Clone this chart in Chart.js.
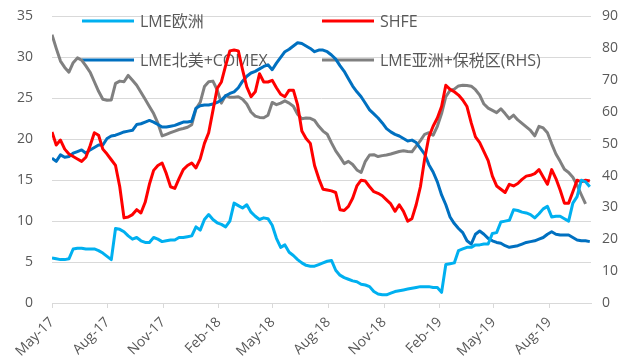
<!DOCTYPE html>
<html>
<head>
<meta charset="utf-8">
<script src="https://cdn.jsdelivr.net/npm/chart.js@4/dist/chart.umd.min.js"></script>
<style>
  html, body { margin: 0; padding: 0; background: #fff; }
  #wrap { width: 634px; height: 362px; position: relative; }
</style>
</head>
<body>
<div id="wrap"><canvas id="chart"></canvas></div>
<script>
// weekly observations
const dates = [
  '2017-05-01','2017-05-08','2017-05-15','2017-05-22','2017-05-29','2017-06-05','2017-06-12','2017-06-19','2017-06-26',
  '2017-07-03','2017-07-10','2017-07-17','2017-07-24','2017-07-31','2017-08-07','2017-08-14','2017-08-21','2017-08-28',
  '2017-09-04','2017-09-11','2017-09-18','2017-09-25','2017-10-02','2017-10-09','2017-10-16','2017-10-23','2017-10-30',
  '2017-11-06','2017-11-13','2017-11-20','2017-11-27','2017-12-04','2017-12-11','2017-12-18','2017-12-25',
  '2018-01-01','2018-01-08','2018-01-15','2018-01-22','2018-01-29','2018-02-05','2018-02-12','2018-02-19','2018-02-26',
  '2018-03-05','2018-03-12','2018-03-19','2018-03-26','2018-04-02','2018-04-09','2018-04-16','2018-04-23','2018-04-30',
  '2018-05-07','2018-05-14','2018-05-21','2018-05-28','2018-06-04','2018-06-11','2018-06-18','2018-06-25',
  '2018-07-02','2018-07-09','2018-07-16','2018-07-23','2018-07-30','2018-08-06','2018-08-13','2018-08-20','2018-08-27',
  '2018-09-03','2018-09-10','2018-09-17','2018-09-24','2018-10-01','2018-10-08','2018-10-15','2018-10-22','2018-10-29',
  '2018-11-05','2018-11-12','2018-11-19','2018-11-26','2018-12-03','2018-12-10','2018-12-17','2018-12-24','2018-12-31',
  '2019-01-07','2019-01-14','2019-01-21','2019-01-28','2019-02-04','2019-02-11','2019-02-18','2019-02-25',
  '2019-03-04','2019-03-11','2019-03-18','2019-03-25','2019-04-01','2019-04-08','2019-04-15','2019-04-22','2019-04-29',
  '2019-05-06','2019-05-13','2019-05-20','2019-05-27','2019-06-03','2019-06-10','2019-06-17','2019-06-24',
  '2019-07-01','2019-07-08','2019-07-15','2019-07-22','2019-07-29','2019-08-05','2019-08-12','2019-08-19','2019-08-26',
  '2019-09-02','2019-09-09','2019-09-16','2019-09-23','2019-09-30','2019-10-07'
];

const lmeEurope = [
  5.5, 5.4, 5.3, 5.3, 5.4, 6.6, 6.7, 6.7, 6.6, 6.6, 6.6, 6.4, 6.1, 5.7, 5.3, 9.1, 9.0, 8.7, 8.2, 7.8,
  8.0, 7.6, 7.4, 7.4, 8.0, 7.8, 7.5, 7.6, 7.7, 7.7, 8.0, 8.0, 8.1, 8.2, 9.3, 8.9, 10.2, 10.8, 10.2, 9.8,
  9.6, 9.3, 10.0, 12.2, 11.9, 11.6, 12.0, 11.1, 10.6, 10.2, 10.4, 10.3, 9.5, 7.9, 6.8, 7.1, 6.2, 5.8, 5.3, 4.9,
  4.6, 4.5, 4.5, 4.7, 4.9, 5.1, 5.2, 4.0, 3.4, 3.1, 2.9, 2.7, 2.6, 2.3, 2.2, 2.0, 1.4, 1.1, 1.0, 1.0,
  1.2, 1.4, 1.5, 1.6, 1.7, 1.8, 1.9, 2.0, 2.0, 2.0, 1.9, 1.9, 1.3, 4.7, 4.8, 4.9, 6.4, 6.6, 6.8, 6.8,
  7.1, 7.1, 7.2, 7.2, 8.5, 8.6, 9.9, 10.0, 10.1, 11.4, 11.3, 11.1, 11.0, 10.8, 10.4, 10.9, 11.5, 11.8, 10.5, 10.6,
  10.6, 10.3, 10.0, 12.2, 13.0, 15.0, 14.8, 14.2
];

const shfe = [
  20.9, 19.3, 19.9, 18.8, 18.2, 17.9, 17.6, 17.3, 17.8, 19.2, 20.8, 20.5, 18.8, 18.2, 17.5, 16.8, 14.2, 10.4, 10.5, 10.8,
  11.4, 11.0, 12.3, 14.5, 16.2, 16.8, 17.1, 15.8, 14.2, 14.0, 15.2, 16.3, 16.8, 17.1, 16.5, 17.6, 19.5, 20.8, 23.5, 26.2,
  27.0, 29.0, 30.8, 30.9, 30.8, 28.5, 26.4, 25.2, 25.8, 28.0, 27.0, 27.0, 27.2, 26.3, 25.5, 25.2, 26.0, 26.0, 24.2, 21.0,
  20.1, 19.5, 16.8, 15.2, 13.9, 13.8, 13.7, 13.5, 11.4, 11.3, 11.8, 12.8, 14.3, 15.0, 14.9, 14.2, 13.6, 13.4, 13.1, 12.6,
  12.1, 11.2, 12.0, 11.2, 10.0, 10.3, 12.0, 14.2, 17.6, 20.3, 21.6, 22.6, 24.0, 26.6, 26.1, 25.8, 25.4, 24.8, 24.0, 22.0,
  20.3, 19.6, 18.5, 17.4, 15.5, 14.3, 13.9, 13.5, 14.5, 14.3, 14.6, 15.1, 15.5, 15.6, 15.8, 16.3, 15.4, 14.5, 16.3, 15.2,
  13.8, 12.2, 12.2, 13.6, 15.0, 14.8, 15.0, 14.9
];

const lmeNorthAmerica = [
  17.7, 17.3, 18.1, 17.8, 17.9, 18.3, 18.5, 18.7, 18.3, 18.7, 19.0, 19.3, 19.3, 20.1, 20.4, 20.5, 20.7, 20.9, 21.0, 21.1,
  21.8, 21.9, 22.1, 22.3, 22.1, 21.8, 21.5, 21.5, 21.6, 21.7, 21.9, 22.1, 22.1, 22.2, 23.8, 24.1, 24.2, 24.2, 24.3, 24.5,
  24.8, 25.3, 25.6, 25.8, 26.3, 27.1, 27.7, 28.1, 28.3, 28.6, 28.9, 29.1, 28.5, 29.3, 30.0, 30.7, 31.0, 31.4, 31.8, 31.7,
  31.4, 31.1, 30.7, 30.9, 30.9, 30.7, 30.3, 29.8, 29.0, 28.3, 27.4, 26.5, 25.8, 25.2, 24.4, 23.6, 23.1, 22.6, 22.0, 21.3,
  20.9, 20.6, 20.4, 20.1, 19.8, 19.9, 19.6, 18.9, 18.2, 16.9, 16.0, 14.8, 13.2, 12.0, 10.5, 9.7, 9.1, 8.6, 7.6, 7.2,
  8.4, 8.8, 8.4, 7.9, 7.6, 7.4, 7.3, 7.0, 6.8, 6.9, 7.0, 7.2, 7.4, 7.5, 7.6, 7.8, 8.0, 8.4, 8.7, 8.4,
  8.3, 8.3, 8.3, 8.0, 7.7, 7.6, 7.6, 7.5
];

// right-hand scale
const lmeAsiaBonded = [
  84.3, 80.0, 76.0, 74.0, 72.5, 75.5, 77.0, 76.3, 74.5, 72.5, 69.5, 66.5, 64.0, 63.7, 63.8, 69.0, 69.7, 69.5, 71.5, 70.0,
  68.4, 66.2, 64.0, 61.7, 59.5, 56.5, 52.5, 53.0, 53.5, 54.0, 54.5, 54.8, 55.2, 56.0, 61.0, 63.0, 68.0, 69.5, 69.7, 67.0,
  62.8, 65.2, 64.6, 64.6, 64.8, 64.0, 62.5, 60.0, 58.7, 58.3, 58.2, 59.0, 63.0, 62.3, 62.8, 63.5, 62.8, 61.8, 59.3, 57.9,
  58.1, 58.0, 57.4, 55.5, 54.0, 53.0, 50.3, 47.8, 45.9, 43.8, 44.5, 43.5, 41.8, 41.0, 44.5, 46.5, 46.6, 46.0, 46.3, 46.5,
  46.8, 47.2, 47.6, 47.8, 47.6, 47.5, 49.3, 51.0, 53.0, 53.5, 52.7, 55.5, 59.5, 64.8, 66.8, 67.2, 68.2, 68.4, 68.3, 68.1,
  67.0, 65.3, 62.5, 61.2, 60.5, 59.8, 61.0, 59.5, 57.9, 59.0, 57.5, 56.4, 55.3, 54.2, 52.5, 55.5, 55.0, 53.5, 50.0, 46.8,
  44.5, 42.0, 41.0, 39.5, 37.0, 34.0, 31.1, null
];

const tickDates = ['2017-05-01','2017-08-01','2017-11-01','2018-02-01','2018-05-01','2018-08-01','2018-11-01','2019-02-01','2019-05-01','2019-08-01'];
const tickLabels = ['May-17','Aug-17','Nov-17','Feb-18','May-18','Aug-18','Nov-18','Feb-19','May-19','Aug-19'];
const xStart = '2017-05-01';
const xEnd = '2019-10-09';

const dayNum = s => {
  const p = s.split('-');
  return Date.UTC(+p[0], +p[1] - 1, +p[2]) / 86400000;
};

const FONT = "'Open Sans', 'Noto Sans CJK SC', sans-serif";
const TEXT = '#595959';
const GRID = '#d9d9d9';

const toPoints = vals => dates.map((d, i) => ({ x: dayNum(d), y: vals[i] }));

const lineSet = (label, vals, color, axis, order) => ({
  label: label,
  data: toPoints(vals),
  borderColor: color,
  backgroundColor: color,
  borderWidth: 3,
  pointRadius: 0,
  tension: 0,
  borderJoinStyle: 'round',
  yAxisID: axis,
  order: order,
  spanGaps: false
});

// legend sits inside the plot, two rows; the lines run over it
const overlayLegend = {
  id: 'overlayLegend',
  beforeDatasetsDraw(chart) {
    const ctx = chart.ctx;
    const spots = [[82, 21], [322, 21], [82, 60], [322, 60]];
    ctx.save();
    ctx.font = '16px ' + FONT;
    ctx.textBaseline = 'middle';
    chart.data.datasets.forEach((ds, i) => {
      const [x, y] = spots[i];
      ctx.strokeStyle = ds.borderColor;
      ctx.lineWidth = 3;
      ctx.beginPath();
      ctx.moveTo(x, y);
      ctx.lineTo(x + 52, y);
      ctx.stroke();
      ctx.fillStyle = TEXT;
      ctx.fillText(ds.label, x + 58, y + 1);
    });
    ctx.restore();
  }
};

new Chart(document.getElementById('chart'), {
  type: 'line',
  data: {
    datasets: [
      lineSet('LME欧洲', lmeEurope, '#00B0F0', 'y', 0),
      lineSet('SHFE', shfe, '#FF0000', 'y', 1),
      lineSet('LME北美+COMEX', lmeNorthAmerica, '#0070C0', 'y', 2),
      lineSet('LME亚洲+保税区(RHS)', lmeAsiaBonded, '#808080', 'y1', 3)
    ]
  },
  options: {
    responsive: true,
    maintainAspectRatio: false,
    animation: false,
    layout: { padding: { top: 16.5, left: 0, right: 0, bottom: 0 } },
    plugins: {
      legend: { display: false },
      tooltip: { enabled: false }
    },
    scales: {
      x: {
        type: 'linear',
        min: dayNum(xStart),
        max: dayNum(xEnd),
        afterBuildTicks: s => { s.ticks = tickDates.map(d => ({ value: dayNum(d) })); },
        afterFit: s => { s.height = 59; },
        ticks: {
          autoSkip: false,
          minRotation: 45,
          maxRotation: 45,
          padding: 6,
          color: TEXT,
          font: { family: FONT, size: 14 },
          callback: (v, i) => tickLabels[i]
        },
        grid: { drawOnChartArea: false, drawTicks: true, tickLength: 5, color: GRID },
        border: { color: GRID, width: 1 }
      },
      y: {
        position: 'left',
        min: 0,
        max: 35,
        afterFit: s => { s.width = 52; },
        ticks: { stepSize: 5, padding: 6, color: TEXT, font: { family: FONT, size: 14 } },
        grid: { color: GRID, lineWidth: 1, drawTicks: true, tickLength: 13, tickColor: 'rgba(0,0,0,0)' },
        border: { display: false }
      },
      y1: {
        position: 'right',
        min: 0,
        max: 90,
        afterFit: s => { s.width = 43; },
        ticks: { stepSize: 10, padding: 3, color: TEXT, font: { family: FONT, size: 14 } },
        grid: { drawOnChartArea: false, drawTicks: true, tickLength: 8, tickColor: 'rgba(0,0,0,0)' },
        border: { display: false }
      }
    }
  },
  plugins: [overlayLegend]
});
</script>
</body>
</html>
